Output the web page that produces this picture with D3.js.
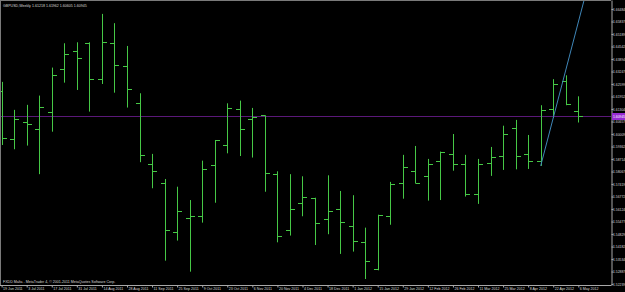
<!DOCTYPE html>
<html>
<head>
<meta charset="utf-8">
<script src="https://cdn.jsdelivr.net/npm/d3@7"></script>
<style>
  html, body { margin: 0; padding: 0; background: #000; }
  svg { display: block; }
  text { font-family: "Liberation Sans", Arial, sans-serif; }
</style>
</head>
<body>
<div id="chart"></div>
<script>
// GBPUSD weekly bars, 19 Jun 2011 .. 6 May 2012
const weeks = [
  "2011-06-19","2011-06-26","2011-07-03","2011-07-10","2011-07-17","2011-07-24","2011-07-31",
  "2011-08-07","2011-08-14","2011-08-21","2011-08-28","2011-09-04","2011-09-11","2011-09-18",
  "2011-09-25","2011-10-02","2011-10-09","2011-10-16","2011-10-23","2011-10-30","2011-11-06",
  "2011-11-13","2011-11-20","2011-11-27","2011-12-04","2011-12-11","2011-12-18","2011-12-25",
  "2012-01-01","2012-01-08","2012-01-15","2012-01-22","2012-01-29","2012-02-05","2012-02-12",
  "2012-02-19","2012-02-26","2012-03-04","2012-03-11","2012-03-18","2012-03-25","2012-04-01",
  "2012-04-08","2012-04-15","2012-04-22","2012-04-29","2012-05-06"
];

const open = [1.6224,1.5974,1.6062,1.6026,1.6117,1.6336,1.6430,1.6471,1.6285,1.6471,1.6354,1.6162,
  1.5844,1.5746,1.5492,1.5565,1.5575,1.5839,1.5943,1.6129,1.6077,1.6098,1.5793,1.5504,1.5642,
  1.5668,1.5559,1.5613,1.5526,1.5440,1.5300,1.5575,1.5746,1.5810,1.5785,1.5860,1.5896,1.5847,
  1.5691,1.5850,1.5887,1.6032,1.5899,1.5860,1.6129,1.6277,1.61218];
const high = [1.6271,1.6126,1.6152,1.6200,1.6345,1.6471,1.6476,1.6476,1.6623,1.6575,1.6457,1.6212,
  1.5898,1.5768,1.5728,1.5659,1.5863,1.5970,1.6160,1.6174,1.6136,1.6098,1.5808,1.5793,1.5782,
  1.5671,1.5787,1.5706,1.5684,1.5516,1.5583,1.5753,1.5893,1.5939,1.5872,1.5910,1.6001,1.5893,
  1.5872,1.5934,1.6044,1.6074,1.5996,1.6150,1.6285,1.6305,1.61962];
const low = [1.5944,1.5922,1.5941,1.5793,1.6013,1.6267,1.6229,1.6117,1.6260,1.6215,1.6138,1.5855,
  1.5720,1.5345,1.5449,1.5288,1.5542,1.5645,1.5901,1.5887,1.5879,1.5702,1.5440,1.5475,1.5575,
  1.5426,1.5482,1.5380,1.5392,1.5250,1.5295,1.5531,1.5666,1.5744,1.5656,1.5659,1.5811,1.5677,
  1.5639,1.5784,1.5815,1.5818,1.5820,1.5836,1.6084,1.6150,1.60605];
const close = [1.5981,1.6077,1.6055,1.6140,1.6307,1.6414,1.6395,1.6285,1.6476,1.6357,1.6233,1.5891,
  1.5811,1.5504,1.5601,1.5575,1.5818,1.5969,1.6134,1.6029,1.6088,1.5801,1.5471,1.5611,1.5677,
  1.5539,1.5604,1.5547,1.5446,1.5342,1.5580,1.5741,1.5829,1.5749,1.5844,1.5908,1.5847,1.5691,
  1.5844,1.5884,1.6003,1.5889,1.5860,1.6126,1.6262,1.6157,1.60945];

// price scale labels shown on the right
const priceTicks = [1.66484,1.65837,1.65189,1.64542,1.63894,1.63247,1.62599,1.61952,1.61304,
  1.60657,1.60009,1.59362,1.58714,1.58067,1.57419,1.56772,1.56124,1.55477,1.54829,1.54182,
  1.53534,1.52887,1.52239];

// trend line anchored on two lows (bar index)
const trendFrom = 43, trendTo = 44;
const lastPrice = 1.60945;

const title = "GBPUSD,Weekly  1.61218 1.61962 1.60605 1.60945";
const footer = "FXDD Malta - MetaTrader 4, \u00A9 2001-2011 MetaQuotes Software Corp.";

const W = 625, H = 292;
const PLOT = { RIGHT: 611, BOTTOM: 285 };
const GREEN = "#46c846";
const FS = "3.4px";

const svg = d3.select("#chart").append("svg")
  .attr("width", W).attr("height", H)
  .style("background", "#000");

const x = d3.scalePoint()
  .domain(weeks)
  .range([1.6, 578.3]);

const y = d3.scaleLinear()
  .domain([1.5219, 1.6695])
  .range([PLOT.BOTTOM, 0]);

svg.append("clipPath").attr("id", "plot")
  .append("rect").attr("x", 0).attr("y", 0)
  .attr("width", PLOT.RIGHT).attr("height", PLOT.BOTTOM);

const plot = svg.append("g").attr("clip-path", "url(#plot)");

// frame
svg.append("line").attr("x1", 0.5).attr("x2", 0.5).attr("y1", 0).attr("y2", PLOT.BOTTOM)
  .attr("stroke", "#7a7a7a");
svg.append("line").attr("x1", 0).attr("x2", PLOT.RIGHT).attr("y1", 0.5).attr("y2", 0.5)
  .attr("stroke", "#7a7a7a");

// current price line
const yLast = Math.round(y(lastPrice)) + 0.5;
plot.append("line")
  .attr("x1", 0).attr("x2", PLOT.RIGHT)
  .attr("y1", yLast).attr("y2", yLast)
  .attr("stroke", "#5a1878");

// OHLC bars
const bars = plot.selectAll("g.bar")
  .data(weeks)
  .join("g")
  .attr("class", "bar")
  .attr("stroke", GREEN)
  .attr("stroke-width", 1);

bars.append("line")
  .attr("x1", d => Math.round(x(d)) + 0.5)
  .attr("x2", d => Math.round(x(d)) + 0.5)
  .attr("y1", (d, i) => y(high[i]))
  .attr("y2", (d, i) => y(low[i]));

bars.append("line")
  .attr("x1", d => Math.round(x(d)) - 4)
  .attr("x2", d => Math.round(x(d)))
  .attr("y1", (d, i) => Math.round(y(open[i])) + 0.5)
  .attr("y2", (d, i) => Math.round(y(open[i])) + 0.5);

bars.append("line")
  .attr("x1", d => Math.round(x(d)) + 1)
  .attr("x2", d => Math.round(x(d)) + 5)
  .attr("y1", (d, i) => Math.round(y(close[i])) + 0.5)
  .attr("y2", (d, i) => Math.round(y(close[i])) + 0.5);

// trend line (ray through two lows)
const tx1 = x(weeks[trendFrom]), ty1 = y(low[trendFrom]);
const tx2 = x(weeks[trendTo]), ty2 = y(low[trendTo]);
const slope = (ty2 - ty1) / (tx2 - tx1);
plot.append("line")
  .attr("x1", tx1).attr("y1", ty1)
  .attr("x2", tx1 + (-10 - ty1) / slope).attr("y2", -10)
  .attr("stroke", "#3f86b8")
  .attr("stroke-width", 1);

// price axis
const yAxis = d3.axisRight(y)
  .tickValues(priceTicks)
  .tickSize(2)
  .tickSizeOuter(0)
  .tickFormat(d3.format(".5f"));

const gy = svg.append("g")
  .attr("transform", `translate(${PLOT.RIGHT + 0.5},0)`)
  .call(yAxis);
gy.select(".domain").attr("stroke", "#a8a8a8");
gy.selectAll(".tick line").attr("stroke", "#a8a8a8");
gy.selectAll(".tick text")
  .attr("x", 1.5)
  .attr("fill", "#d8d8d8")
  .style("font-size", FS);

// current price label
svg.append("rect")
  .attr("x", PLOT.RIGHT + 1).attr("y", yLast - 3.5)
  .attr("width", W - PLOT.RIGHT).attr("height", 7)
  .attr("fill", "#962ad2");
svg.append("text")
  .attr("x", PLOT.RIGHT + 2).attr("y", yLast)
  .attr("dy", "0.35em")
  .attr("fill", "#ffffff")
  .style("font-size", FS)
  .text(d3.format(".5f")(lastPrice));

// time axis
const fmt = d3.timeFormat("%-d %b %Y");
const parse = d3.timeParse("%Y-%m-%d");
const xAxis = d3.axisBottom(x)
  .tickValues(weeks.filter((d, i) => i % 2 === 0))
  .tickSize(2)
  .tickSizeOuter(0)
  .tickFormat(d => fmt(parse(d)));

const gx = svg.append("g")
  .attr("transform", `translate(0,${PLOT.BOTTOM + 0.5})`)
  .call(xAxis);
gx.select(".domain").attr("d", `M0,0H${PLOT.RIGHT + 0.5}`).attr("stroke", "#a8a8a8");
gx.selectAll(".tick line").attr("stroke", "#a8a8a8");
gx.selectAll(".tick text")
  .attr("text-anchor", "start")
  .attr("x", 1)
  .attr("y", 2)
  .attr("fill", "#d8d8d8")
  .style("font-size", "3.6px");

// header & footer
svg.append("text")
  .attr("x", 3).attr("y", 6.5)
  .attr("fill", "#d8d8d8")
  .style("font-size", "3.6px")
  .text(title);

svg.append("text")
  .attr("x", 3).attr("y", 282.5)
  .attr("fill", "#d8d8d8")
  .style("font-size", "3.6px")
  .text(footer);
</script>
</body>
</html>
